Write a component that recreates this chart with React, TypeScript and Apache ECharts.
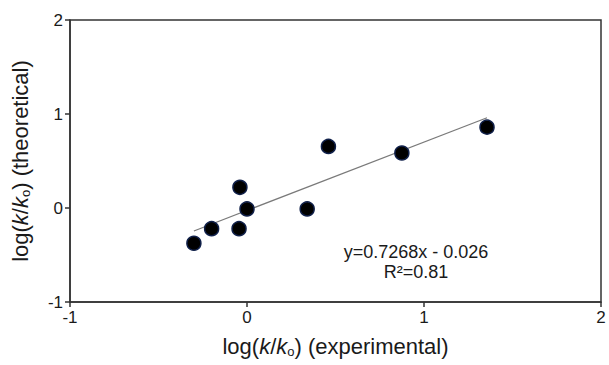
import React, { useEffect, useRef } from "react";
import * as echarts from "echarts";

const expX = [-0.30, -0.20, -0.04, -0.045, 0.0, 0.34, 0.46, 0.875, 1.356];
const theoY = [-0.375, -0.22, 0.22, -0.22, -0.01, -0.01, 0.655, 0.585, 0.86];
const slope = 0.7268;
const intercept = -0.026;
const axisMin = -1;
const axisMax = 2;
const equationText = "y=0.7268x - 0.026";
const r2Text = "R²=0.81";

export default function App() {
  const ref = useRef<HTMLDivElement>(null);
  useEffect(() => {
    if (!ref.current) return;
    const chart = echarts.init(ref.current, undefined, { renderer: "svg" });
    const x0 = Math.min(...expX);
    const x1 = Math.max(...expX);
    const fit = [
      [x0, slope * x0 + intercept],
      [x1, slope * x1 + intercept],
    ];
    const font = "Liberation Sans, Arial, sans-serif";
    const nameRich = {
      i: { fontStyle: "italic" as const, fontSize: 22, fontFamily: font, color: "#1a1a1a" },
      sub: { fontSize: 13, fontFamily: font, color: "#1a1a1a", padding: [11, 0, 0, 0] },
      n: { fontSize: 22, fontFamily: font, color: "#1a1a1a" },
    };
    const axisCommon = {
      type: "value" as const,
      min: axisMin,
      max: axisMax,
      interval: 1,
      splitLine: { show: false },
      axisLine: { onZero: false, lineStyle: { color: "#333", width: 1.5 } },
      axisTick: { show: true, length: 5, lineStyle: { color: "#333", width: 1.5 } },
      axisLabel: { fontSize: 17, fontFamily: font, color: "#1a1a1a", margin: 7 },
      nameLocation: "middle" as const,
      nameTextStyle: { rich: nameRich },
    };
    chart.setOption({
      animation: false,
      backgroundColor: "#fff",
      grid: {
        left: 70,
        right: 8,
        top: 20,
        bottom: 63,
        show: true,
        borderColor: "#333",
        borderWidth: 1.5,
      },
      xAxis: {
        ...axisCommon,
        name: "{n|log(}{i|k}{n|/}{i|k}{sub|o}{n|) (experimental)}",
        nameGap: 32,
      },
      yAxis: {
        ...axisCommon,
        name: "{n|log(}{i|k}{n|/}{i|k}{sub|o}{n|) (theoretical)}",
        nameRotate: 90,
        nameGap: 38,
      },
      series: [
        {
          type: "line",
          data: fit,
          symbol: "none",
          lineStyle: { color: "#7a7a7a", width: 1.2 },
          silent: true,
          z: 1,
        },
        {
          type: "scatter",
          data: expX.map((x, i) => [x, theoY[i]]),
          symbol: "circle",
          symbolSize: 14,
          itemStyle: { color: "#000", borderColor: "#10204a", borderWidth: 1.5, opacity: 1 },
          z: 2,
        },
      ],
      graphic: [
        {
          type: "text",
          x: 416,
          y: 252,
          style: {
            text: equationText,
            fontSize: 18,
            fontFamily: font,
            fill: "#1a1a1a",
            align: "center",
            verticalAlign: "middle",
          },
        },
        {
          type: "text",
          x: 416,
          y: 272,
          style: {
            text: r2Text,
            fontSize: 18,
            fontFamily: font,
            fill: "#1a1a1a",
            align: "center",
            verticalAlign: "middle",
          },
        },
      ],
    });
    return () => chart.dispose();
  }, []);
  return <div ref={ref} style={{ width: 609, height: 365, position: "absolute", left: 0, top: 0 }} />;
}
